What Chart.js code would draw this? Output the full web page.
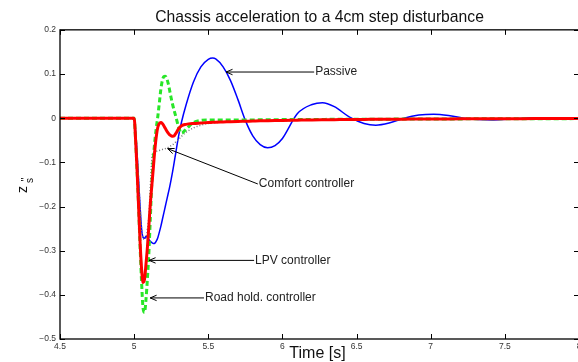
<!DOCTYPE html>
<html>
<head>
<meta charset="utf-8">
<script src="https://cdn.jsdelivr.net/npm/chart.js@4/dist/chart.umd.min.js"></script>
<style>
  body { margin: 0; background: #fff; }
  #wrap { width: 578px; height: 362px; overflow: hidden; position: relative; }
</style>
</head>
<body>
<div id="wrap"><canvas id="chassis" width="600" height="362"></canvas></div>
<script>
// time samples [s]
var time = [4.5, 5.0, 5.01, 5.02, 5.03, 5.04, 5.05, 5.06, 5.07, 5.08, 5.09, 5.10, 5.11, 5.12, 5.13, 5.14,
  5.15, 5.16, 5.17, 5.18, 5.19, 5.20, 5.21, 5.22, 5.23, 5.24, 5.25, 5.26, 5.27, 5.28,
  5.30, 5.32, 5.35, 5.40, 5.45, 5.50, 5.53, 5.55, 5.60, 5.65, 5.70, 5.75, 5.80, 5.85, 5.90, 5.95, 6.00,
  6.10, 6.20, 6.27, 6.35, 6.45, 6.55, 6.63, 6.72, 6.82, 6.92, 7.02, 7.12, 7.22, 7.32, 7.42, 7.55, 7.70, 7.85, 8.00];

var passive = [0, 0, -0.03, -0.08, -0.14, -0.2, -0.25, -0.27, -0.272, -0.268, -0.27, -0.275, -0.279, -0.282, -0.284, -0.283,
  -0.278, -0.27, -0.258, -0.245, -0.23, -0.215, -0.2, -0.185, -0.17, -0.155, -0.138, -0.12, -0.1, -0.08,
  -0.04, -0.008, 0.03, 0.082, 0.116, 0.133, 0.136, 0.134, 0.116, 0.085, 0.042, -0.005, -0.04, -0.06, -0.067, -0.062, -0.046,
  0.01, 0.031, 0.035, 0.026, 0.003, -0.012, -0.016, -0.011, 0, 0.007, 0.009, 0.006, 0, -0.003, -0.004, -0.002, 0.001, 0.001, 0];

var lpv = [0, 0, -0.05, -0.12, -0.2, -0.28, -0.34, -0.372, -0.365, -0.33, -0.29, -0.24, -0.19, -0.15, -0.11, -0.07,
  -0.04, -0.02, -0.012, -0.01, -0.012, -0.017, -0.023, -0.029, -0.034, -0.038, -0.04, -0.041, -0.04, -0.035,
  -0.024, -0.017, -0.014, -0.012, -0.011, -0.01, -0.0095, -0.009, -0.0085, -0.008, -0.0075, -0.007, -0.0065, -0.006, -0.0058, -0.0055, -0.005,
  -0.0045, -0.004, -0.0037, -0.0034, -0.003, -0.0028, -0.0026, -0.0024, -0.0022, -0.002, -0.0018, -0.0016, -0.0015, -0.0014, -0.0013, -0.0012, -0.001, -0.0009, -0.0008];

var roadHold = [0, 0, -0.05, -0.12, -0.2, -0.29, -0.37, -0.43, -0.44, -0.41, -0.36, -0.3, -0.22, -0.14, -0.09, -0.05,
  -0.02, 0.005, 0.035, 0.065, 0.085, 0.094, 0.095, 0.09, 0.078, 0.062, 0.045, 0.03, 0.017, 0.005,
  -0.02, -0.034, -0.025, -0.01, -0.005, -0.004, -0.004, -0.004, -0.004, -0.004, -0.004, -0.004, -0.004, -0.0038, -0.0036, -0.0034, -0.0032,
  -0.003, -0.003, -0.0028, -0.0026, -0.0025, -0.0024, -0.0023, -0.0022, -0.002, -0.0019, -0.0018, -0.0017, -0.0016, -0.0015, -0.0014, -0.0013, -0.0012, -0.0011, -0.001];

var comfort = [0, 0, -0.03, -0.08, -0.14, -0.2, -0.25, -0.27, -0.275, -0.27, -0.25, -0.22, -0.15, -0.09, -0.078, -0.076,
  -0.075, -0.074, -0.073, -0.072, -0.071, -0.07, -0.069, -0.068, -0.066, -0.064, -0.062, -0.06, -0.057, -0.054,
  -0.048, -0.041, -0.032, -0.022, -0.016, -0.012, -0.011, -0.01, -0.009, -0.0085, -0.008, -0.0075, -0.007, -0.0065, -0.006, -0.0057, -0.0054,
  -0.0048, -0.0043, -0.004, -0.0036, -0.0033, -0.003, -0.0028, -0.0026, -0.0024, -0.0022, -0.002, -0.0018, -0.0017, -0.0016, -0.0015, -0.0013, -0.0011, -0.001, -0.0009];

// axis range
var xMin = 4.5, xMax = 8, xStep = 0.5;
var yMin = -0.5, yMax = 0.2, yStep = 0.1;

// arrow labels: [text, tip (t, value), tail (t, value)]
var notes = [
  ['Passive', [5.62, 0.1045], [6.214, 0.1045]],
  ['Comfort controller', [5.226, -0.069], [5.834, -0.149]],
  ['LPV controller', [5.101, -0.322], [5.809, -0.322]],
  ['Road hold. controller', [5.108, -0.407], [5.471, -0.407]]
];

var FONT = '"Liberation Sans", Arial, Helvetica, sans-serif';

function pts(arr) {
  return time.map(function(t, i) { return { x: t, y: arr[i] }; });
}

var decor = {
  id: 'decor',
  afterDatasetsDraw: function(chart) {
    var ctx = chart.ctx, a = chart.chartArea;
    var xs = chart.scales.x, ys = chart.scales.y;
    ctx.save();
    // box
    ctx.strokeStyle = '#000';
    ctx.lineWidth = 1.3;
    ctx.strokeRect(a.left, a.top, a.right - a.left, a.bottom - a.top);
    // inward ticks
    ctx.lineWidth = 1;
    ctx.beginPath();
    xs.ticks.forEach(function(tk) {
      var px = Math.round(xs.getPixelForValue(tk.value)) + 0.5;
      ctx.moveTo(px, a.bottom); ctx.lineTo(px, a.bottom - 5);
      ctx.moveTo(px, a.top); ctx.lineTo(px, a.top + 5);
    });
    ys.ticks.forEach(function(tk) {
      var py = Math.round(ys.getPixelForValue(tk.value)) + 0.5;
      ctx.moveTo(a.left, py); ctx.lineTo(a.left + 5, py);
      ctx.moveTo(a.right, py); ctx.lineTo(a.right - 5, py);
    });
    ctx.stroke();

    // arrows + labels
    ctx.font = '12px ' + FONT;
    ctx.fillStyle = '#222';
    ctx.textBaseline = 'middle';
    ctx.textAlign = 'left';
    notes.forEach(function(n) {
      var tx = xs.getPixelForValue(n[1][0]), ty = ys.getPixelForValue(n[1][1]);
      var lx = xs.getPixelForValue(n[2][0]), ly = ys.getPixelForValue(n[2][1]);
      var ang = Math.atan2(ly - ty, lx - tx);
      ctx.strokeStyle = '#000';
      ctx.lineWidth = 1;
      ctx.beginPath();
      ctx.moveTo(lx, ly); ctx.lineTo(tx, ty);
      ctx.moveTo(tx + 7 * Math.cos(ang + 0.4), ty + 7 * Math.sin(ang + 0.4));
      ctx.lineTo(tx, ty);
      ctx.lineTo(tx + 7 * Math.cos(ang - 0.4), ty + 7 * Math.sin(ang - 0.4));
      ctx.stroke();
      ctx.fillText(n[0], lx + 1, ly);
    });

    // x axis title
    ctx.fillStyle = '#111';
    ctx.textAlign = 'center';
    ctx.font = '16px ' + FONT;
    ctx.fillText('Time [s]', (a.left + a.right) / 2 - 2, 354);

    // y axis title  z'' with subscript s
    ctx.translate(24, (a.top + a.bottom) / 2);
    ctx.rotate(-Math.PI / 2);
    ctx.textAlign = 'left';
    ctx.textBaseline = 'alphabetic';
    ctx.font = '14px ' + FONT;
    ctx.fillText('z', -8.5, 3);
    ctx.font = '10px ' + FONT;
    ctx.fillText("''", 3, 5);
    ctx.fillText('s', 1.5, 9);
    ctx.restore();
  }
};

function yFmt(v) {
  var r = Math.round(v * 10) / 10;
  if (r === 0) return '0';
  return (r < 0 ? '\u2212' : '') + Math.abs(r).toString();
}
function xFmt(v) {
  return String(Math.round(v * 10) / 10);
}

var ctx = document.getElementById('chassis');
new Chart(ctx, {
  type: 'line',
  data: {
    datasets: [
      { label: 'LPV controller', data: pts(lpv), borderColor: '#ff0000', borderWidth: 3 },
      { label: 'Road hold. controller', data: pts(roadHold), borderColor: 'rgb(40,230,40)', borderWidth: 3, borderDash: [5, 3] },
      { label: 'Comfort controller', data: pts(comfort), borderColor: '#777', borderWidth: 1.5, borderDash: [1, 2] },
      { label: 'Passive', data: pts(passive), borderColor: '#0000ff', borderWidth: 1.5 }
    ]
  },
  options: {
    responsive: false,
    animation: false,
    layout: { padding: { left: 0, right: 21, top: 0, bottom: 0 } },
    elements: {
      point: { radius: 0 },
      line: { fill: false, cubicInterpolationMode: 'monotone' }
    },
    plugins: {
      legend: { display: false },
      tooltip: { enabled: false },
      title: {
        display: true,
        fullSize: false,
        text: 'Chassis acceleration to a 4cm step disturbance',
        color: '#111',
        font: { family: FONT, size: 15.7, weight: 'normal' },
        padding: { top: 8, bottom: 3 }
      }
    },
    scales: {
      x: {
        type: 'linear',
        min: xMin, max: xMax,
        grid: { display: false, drawTicks: false },
        border: { display: false },
        ticks: { stepSize: xStep, padding: 3, color: '#333', font: { family: FONT, size: 8.5 }, maxRotation: 0, callback: xFmt },
        afterFit: function(s) { s.height = 23; }
      },
      y: {
        min: yMin, max: yMax,
        grid: { display: false, drawTicks: false },
        border: { display: false },
        ticks: { stepSize: yStep, padding: 4, color: '#333', font: { family: FONT, size: 8.5 }, callback: yFmt },
        afterFit: function(s) { s.width = 60; }
      }
    }
  },
  plugins: [decor]
});
</script>
</body>
</html>
